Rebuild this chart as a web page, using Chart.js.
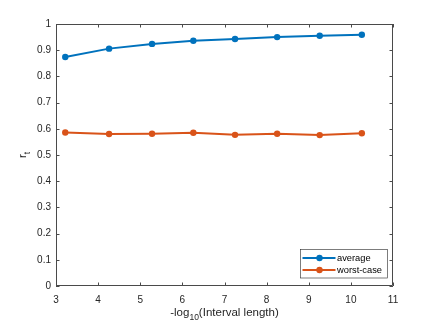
<!DOCTYPE html>
<html>
<head>
<meta charset="utf-8">
<script src="https://cdn.jsdelivr.net/npm/chart.js@4.4.0/dist/chart.umd.min.js"></script>
<style>
  html, body { margin: 0; padding: 0; background: #fff; }
  #wrap { width: 436px; height: 327px; }
</style>
</head>
<body>
<div id="wrap"><canvas id="myChart" width="436" height="327"></canvas></div>
<script>
// valores
const xValues = [3.22, 4.26, 5.28, 6.26, 7.25, 8.25, 9.26, 10.26];
const averageValues = [0.874, 0.906, 0.924, 0.936, 0.943, 0.950, 0.955, 0.959];
const worstValues = [0.586, 0.580, 0.581, 0.585, 0.577, 0.581, 0.576, 0.583];
const xTicks = [3, 4, 5, 6, 7, 8, 9, 10, 11];
const yTicks = [0, 0.1, 0.2, 0.3, 0.4, 0.5, 0.6, 0.7, 0.8, 0.9, 1];
const seriesNames = ["average", "worst-case"];

const blue = "#0072BD";
const orange = "#D95319";
const axisColor = "#262626";
const lineColor = "#4a4a4a";
const fontName = "'Liberation Sans', Arial, sans-serif";

// cuadro, marcas de eje, titulos y leyenda estilo matlab
const matlabAxes = {
  id: "matlabAxes",
  afterDraw(chart) {
    const ctx = chart.ctx;
    const a = chart.chartArea;
    const xs = chart.scales.x, ys = chart.scales.y;
    ctx.save();
    ctx.strokeStyle = lineColor;
    ctx.lineWidth = 1;
    ctx.beginPath();
    ctx.rect(a.left + 0.5, a.top + 0.5, a.right - a.left - 1, a.bottom - a.top - 1);
    ctx.stroke();
    const tl = 3.5;
    ctx.beginPath();
    xTicks.forEach(function (t) {
      const px = Math.round(xs.getPixelForValue(t)) + 0.5;
      ctx.moveTo(px, a.bottom); ctx.lineTo(px, a.bottom - tl);
      ctx.moveTo(px, a.top); ctx.lineTo(px, a.top + tl);
    });
    yTicks.forEach(function (t) {
      const py = Math.round(ys.getPixelForValue(t)) + 0.5;
      ctx.moveTo(a.left, py); ctx.lineTo(a.left + tl, py);
      ctx.moveTo(a.right, py); ctx.lineTo(a.right - tl, py);
    });
    ctx.stroke();

    // titulo eje x con subindice
    ctx.fillStyle = axisColor;
    ctx.textBaseline = "alphabetic";
    const big = "11.5px " + fontName, small = "8.5px " + fontName;
    const parts = [["-log", big, 0], ["10", small, 4], ["(Interval length)", big, 0]];
    let w = 0;
    parts.forEach(function (p) { ctx.font = p[1]; w += ctx.measureText(p[0]).width; });
    let x0 = (a.left + a.right) / 2 - w / 2;
    const by = 316;
    parts.forEach(function (p) {
      ctx.font = p[1];
      ctx.textAlign = "left";
      ctx.fillText(p[0], x0, by + p[2]);
      x0 += ctx.measureText(p[0]).width;
    });

    // titulo eje y: r_t
    ctx.save();
    ctx.translate(26, (a.top + a.bottom) / 2);
    ctx.rotate(-Math.PI / 2);
    ctx.font = big;
    const rw = ctx.measureText("r").width;
    ctx.font = small;
    const tw = ctx.measureText("t").width;
    let sx = -(rw + tw) / 2;
    ctx.font = big;
    ctx.fillText("r", sx, 0);
    ctx.font = small;
    ctx.fillText("t", sx + rw, 4);
    ctx.restore();

    // leyenda
    const lx = 300.5, ly = 249.5, lw = 87, lh = 28.5;
    ctx.fillStyle = "#fff";
    ctx.fillRect(lx, ly, lw, lh);
    ctx.strokeStyle = axisColor;
    ctx.lineWidth = 0.6;
    ctx.strokeRect(lx, ly, lw, lh);
    const colors = [blue, orange];
    seriesNames.forEach(function (name, i) {
      const yy = ly + 8.5 + i * 12;
      ctx.strokeStyle = colors[i];
      ctx.lineWidth = 2;
      ctx.beginPath();
      ctx.moveTo(lx + 2, yy); ctx.lineTo(lx + 35, yy);
      ctx.stroke();
      ctx.fillStyle = colors[i];
      ctx.beginPath();
      ctx.arc(lx + 19, yy, 3.2, 0, Math.PI * 2);
      ctx.fill();
      ctx.fillStyle = "#000";
      ctx.font = "9.3px " + fontName;
      ctx.textAlign = "left";
      ctx.textBaseline = "middle";
      ctx.fillText(name, lx + 36.5, yy + 0.5);
    });
    ctx.restore();
  }
};

const myChart = new Chart("myChart", {
  type: "line",
  data: {
    datasets: [{
      label: seriesNames[0],
      data: xValues.map(function (x, i) { return { x: x, y: averageValues[i] }; }),
      borderColor: blue,
      backgroundColor: blue,
      borderWidth: 2,
      pointRadius: 3.2,
      pointBorderWidth: 0,
      tension: 0
    }, {
      label: seriesNames[1],
      data: xValues.map(function (x, i) { return { x: x, y: worstValues[i] }; }),
      borderColor: orange,
      backgroundColor: orange,
      borderWidth: 2,
      pointRadius: 3.2,
      pointBorderWidth: 0,
      tension: 0
    }]
  },
  options: {
    responsive: false,
    animation: false,
    layout: { padding: { top: 24, right: 43, left: 0, bottom: 0 } },
    plugins: {
      legend: { display: false },
      tooltip: { enabled: false }
    },
    scales: {
      x: {
        type: "linear",
        min: 3,
        max: 11,
        afterBuildTicks: function (s) { s.ticks = xTicks.map(function (v) { return { value: v }; }); },
        afterFit: function (s) { s.height = 41; },
        grid: { display: false, drawTicks: false },
        border: { display: false },
        ticks: {
          color: axisColor,
          padding: 8,
          maxRotation: 0,
          font: { family: fontName, size: 10 }
        }
      },
      y: {
        type: "linear",
        min: 0,
        max: 1,
        afterBuildTicks: function (s) { s.ticks = yTicks.map(function (v) { return { value: v }; }); },
        afterFit: function (s) { s.width = 56; },
        grid: { display: false, drawTicks: false },
        border: { display: false },
        ticks: {
          color: axisColor,
          padding: 5,
          font: { family: fontName, size: 10 },
          callback: function (v) { return String(Math.round(v * 10) / 10); }
        }
      }
    }
  },
  plugins: [matlabAxes]
});
</script>
</body>
</html>
